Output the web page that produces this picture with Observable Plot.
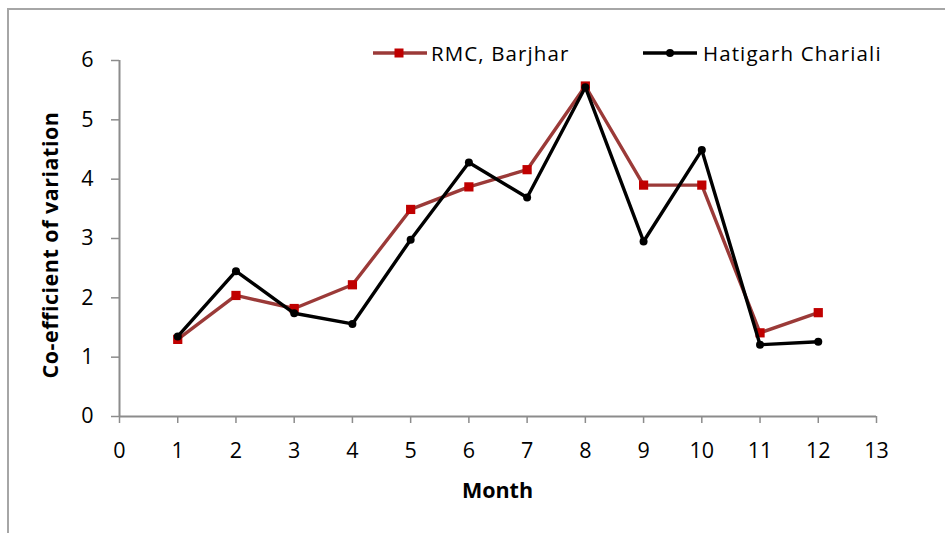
<!DOCTYPE html>
<html>
<head>
<meta charset="utf-8">
<script src="https://cdn.jsdelivr.net/npm/d3@7"></script>
<script src="https://cdn.jsdelivr.net/npm/@observablehq/plot@0.6"></script>
<style>
  html, body { margin: 0; padding: 0; background: #fff; }
  #chart { position: relative; width: 945px; height: 533px; overflow: hidden; }
  #chart svg { display: block; }
</style>
</head>
<body>
<div id="chart"></div>
<script>
// Monthly co-efficient of variation at the two markets
const months = [1, 2, 3, 4, 5, 6, 7, 8, 9, 10, 11, 12];
const rmcBarjhar = [1.30, 2.04, 1.82, 2.22, 3.49, 3.87, 4.16, 5.57, 3.90, 3.90, 1.41, 1.75];
const hatigarhChariali = [1.35, 2.45, 1.74, 1.56, 2.98, 4.28, 3.69, 5.55, 2.95, 4.49, 1.21, 1.26];
const xTicks = [0, 1, 2, 3, 4, 5, 6, 7, 8, 9, 10, 11, 12, 13];
const yTicks = [0, 1, 2, 3, 4, 5, 6];
const seriesNames = ["RMC, Barjhar", "Hatigarh Chariali"];

const rmcRows = months.map((m, i) => ({month: m, cv: rmcBarjhar[i]}));
const hatRows = months.map((m, i) => ({month: m, cv: hatigarhChariali[i]}));

const axisGray = "#8c8c8c";
const rmcLine = "#9b3a38";
const rmcMarker = "#c00000";
const font = "'Open Sans', 'DejaVu Sans', sans-serif";

const plot = Plot.plot({
  width: 945,
  height: 533,
  marginLeft: 119,
  marginRight: 69,
  marginTop: 60,
  marginBottom: 117,
  style: {fontFamily: font, color: "#000", background: "#fff", overflow: "visible"},
  x: {domain: [0, 13]},
  y: {domain: [0, 6]},
  marks: [
    Plot.axisX({ticks: xTicks, tickSize: 7, tickPadding: 19, fontSize: 21.5, stroke: axisGray, strokeWidth: 1.5, label: null, tickFormat: d => d, fill: "#000"}),
    Plot.axisY({ticks: yTicks, tickSize: 8, tickPadding: 18, fontSize: 21.5, stroke: axisGray, strokeWidth: 1.5, label: null, tickFormat: d => d, fill: "#000"}),
    Plot.ruleY([0], {stroke: axisGray, strokeWidth: 2}),
    Plot.ruleX([0], {stroke: axisGray, strokeWidth: 2}),
    Plot.line(rmcRows, {x: "month", y: "cv", stroke: rmcLine, strokeWidth: 3.4}),
    Plot.dot(rmcRows, {x: "month", y: "cv", symbol: "square", r: 5.2, fill: rmcMarker, stroke: "none"}),
    Plot.line(hatRows, {x: "month", y: "cv", stroke: "#000", strokeWidth: 3.4}),
    Plot.dot(hatRows, {x: "month", y: "cv", symbol: "circle", r: 4, fill: "#000", stroke: "none"})
  ]
});

document.getElementById("chart").appendChild(plot);

// Chart frame, axis titles and in-plot legend
const svg = d3.select(plot);

svg.insert("rect", ":first-child")
  .attr("x", 8).attr("y", 9).attr("width", 960).attr("height", 560)
  .attr("fill", "#fff").attr("stroke", "#a6a6a6").attr("stroke-width", 2);

svg.append("text")
  .attr("transform", "translate(58,245) rotate(-90)")
  .attr("text-anchor", "middle")
  .attr("font-family", font).attr("font-weight", "bold").attr("font-size", 21.5)
  .attr("letter-spacing", 0.5)
  .attr("fill", "#000")
  .text("Co-efficient of variation");

svg.append("text")
  .attr("x", 497.5).attr("y", 498)
  .attr("text-anchor", "middle")
  .attr("font-family", font).attr("font-weight", "bold").attr("font-size", 21.5)
  .attr("fill", "#000")
  .text("Month");

const legend = svg.append("g")
  .attr("font-family", font).attr("font-size", 20.5)
  .attr("letter-spacing", 1.1).attr("text-anchor", "start").attr("fill", "#000");
const ly = 53;
// RMC, Barjhar
legend.append("line").attr("x1", 373).attr("x2", 427).attr("y1", ly).attr("y2", ly)
  .attr("stroke", rmcLine).attr("stroke-width", 3.4);
legend.append("rect").attr("x", 394.5).attr("y", ly - 4.5).attr("width", 9).attr("height", 9)
  .attr("fill", rmcMarker);
legend.append("text").attr("x", 431).attr("y", 60.5).text(seriesNames[0]);
// Hatigarh Chariali
legend.append("line").attr("x1", 643).attr("x2", 697).attr("y1", ly).attr("y2", ly)
  .attr("stroke", "#000").attr("stroke-width", 3.4);
legend.append("circle").attr("cx", 670).attr("cy", ly).attr("r", 4).attr("fill", "#000");
legend.append("text").attr("x", 703).attr("y", 60.5).text(seriesNames[1]);
</script>
</body>
</html>
